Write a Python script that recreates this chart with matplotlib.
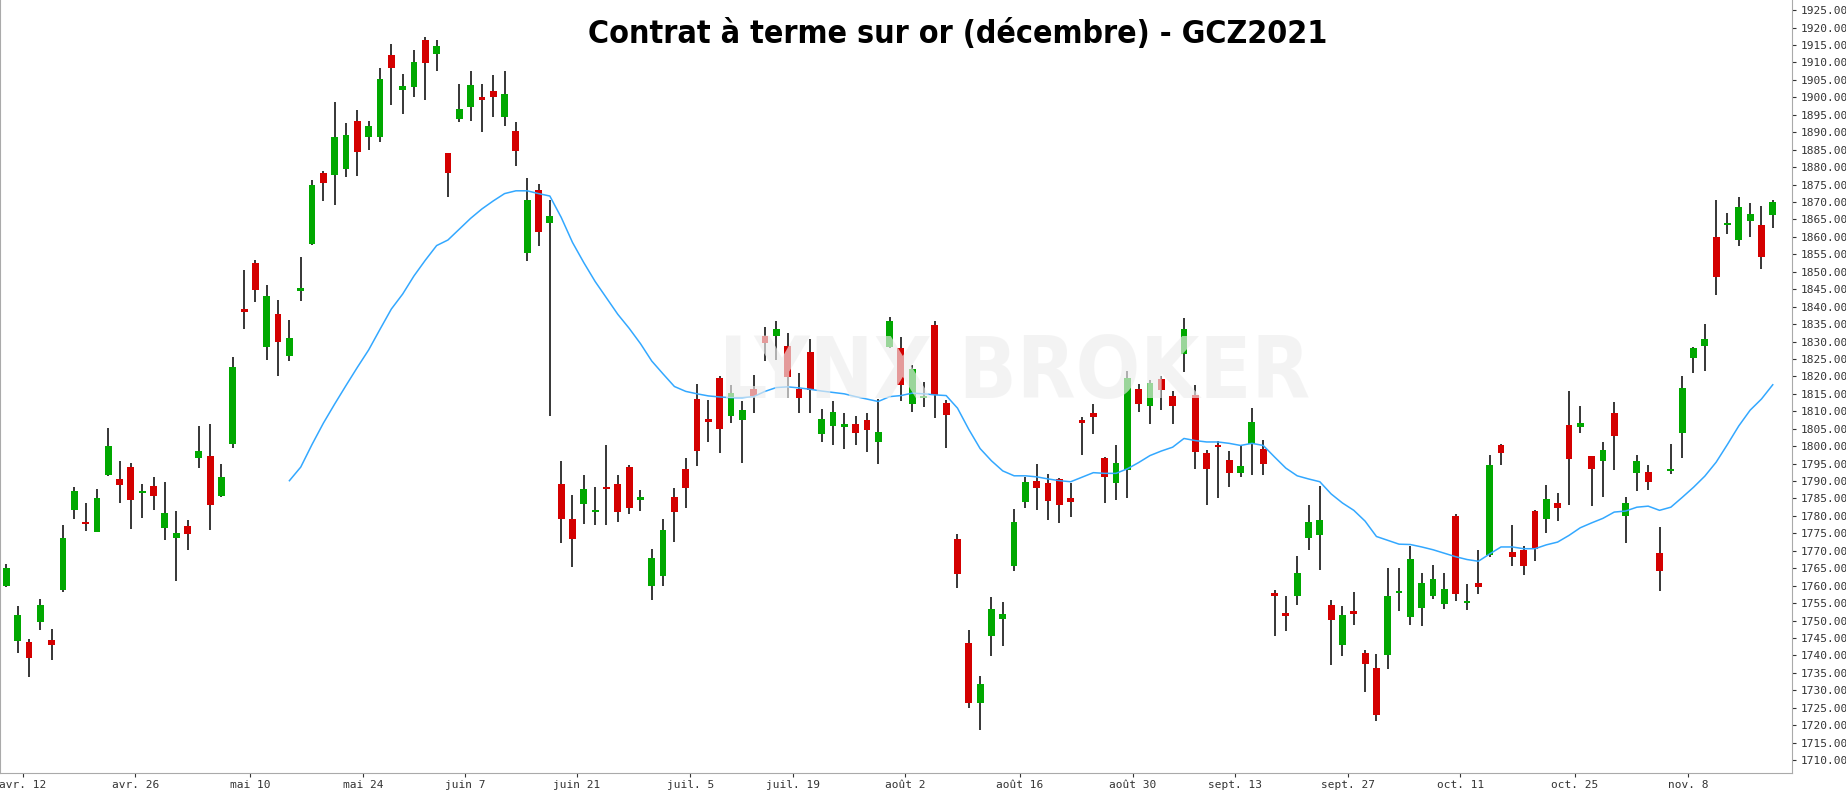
import matplotlib
matplotlib.use('Agg')
import matplotlib.pyplot as plt
import numpy as np

# daily OHLC, GCZ2021
opens = [1760.0, 1744.0, 1743.9, 1749.5, 1744.4, 1758.9, 1781.8, 1778.3, 1775.3, 1791.8,
         1790.6, 1794.0, 1786.6, 1788.6, 1776.4, 1773.8, 1777.2, 1796.7, 1797.1, 1785.7,
         1800.5, 1839.0, 1852.5, 1828.3, 1837.8, 1825.9, 1844.6, 1858.0, 1878.2, 1877.6,
         1879.5, 1893.1, 1888.5, 1888.5, 1912.1, 1902.0, 1902.9, 1916.5, 1912.3, 1884.0,
         1893.9, 1897.1, 1900.1, 1901.8, 1894.5, 1890.4, 1855.5, 1873.5, 1863.9, 1789.2,
         1779.1, 1783.5, 1781.2, 1788.0, 1789.2, 1794.0, 1784.7, 1759.8, 1762.7, 1785.4,
         1793.4, 1813.5, 1807.7, 1819.6, 1808.7, 1807.4, 1816.4, 1831.6, 1831.6, 1828.7,
         1816.4, 1827.0, 1803.4, 1805.7, 1805.4, 1806.4, 1807.6, 1801.3, 1828.3, 1828.1,
         1812.2, 1813.7, 1834.8, 1812.5, 1773.4, 1743.6, 1726.3, 1745.5, 1750.4, 1765.7,
         1784.1, 1790.0, 1789.5, 1790.5, 1785.1, 1807.4, 1809.5, 1796.6, 1789.3, 1793.1,
         1816.4, 1811.6, 1819.3, 1814.4, 1826.5, 1814.7, 1798.0, 1800.3, 1796.0, 1792.2,
         1800.5, 1799.2, 1757.9, 1752.1, 1757.0, 1773.8, 1774.4, 1754.4, 1743.1, 1752.7,
         1740.7, 1736.3, 1740.2, 1757.8, 1751.1, 1753.7, 1756.9, 1754.7, 1779.9, 1754.9,
         1760.8, 1768.9, 1800.3, 1769.6, 1770.1, 1781.4, 1779.0, 1783.7, 1806.1, 1805.4,
         1797.1, 1795.7, 1809.5, 1779.9, 1792.2, 1792.7, 1769.3, 1792.9, 1803.7, 1825.4,
         1828.7, 1860.0, 1863.3, 1859.0, 1864.6, 1863.5, 1866.4]
highs = [1766.2, 1754.1, 1744.7, 1756.2, 1747.6, 1777.3, 1788.3, 1783.7, 1787.7, 1805.3,
         1795.8, 1795.1, 1789.2, 1791.2, 1789.8, 1781.4, 1778.9, 1805.8, 1806.4, 1794.8,
         1825.5, 1850.4, 1853.3, 1846.2, 1841.9, 1836.1, 1854.2, 1876.3, 1879.0, 1898.7,
         1892.7, 1896.3, 1893.1, 1908.5, 1915.2, 1906.6, 1913.7, 1917.3, 1916.5, 1884.0,
         1903.9, 1907.6, 1903.7, 1906.5, 1907.6, 1893.0, 1876.8, 1875.2, 1870.7, 1795.6,
         1786.0, 1791.6, 1788.3, 1800.2, 1791.6, 1794.7, 1787.4, 1770.6, 1779.0, 1787.9,
         1796.6, 1817.9, 1813.2, 1820.2, 1817.6, 1812.8, 1820.5, 1834.2, 1836.0, 1832.3,
         1821.0, 1830.6, 1810.6, 1812.8, 1809.6, 1808.6, 1809.5, 1813.5, 1837.1, 1831.3,
         1823.4, 1818.3, 1836.0, 1813.2, 1774.7, 1747.2, 1734.2, 1756.8, 1755.3, 1781.9,
         1791.2, 1795.0, 1792.1, 1790.9, 1789.3, 1808.3, 1812.1, 1796.9, 1800.3, 1821.6,
         1817.9, 1819.0, 1820.2, 1815.7, 1836.7, 1817.6, 1799.0, 1801.5, 1798.6, 1800.0,
         1810.8, 1801.8, 1758.8, 1757.0, 1768.6, 1783.0, 1788.5, 1755.9, 1754.1, 1758.2,
         1741.5, 1740.4, 1765.0, 1765.0, 1771.5, 1763.7, 1765.9, 1763.7, 1780.6, 1760.5,
         1770.1, 1797.4, 1800.6, 1777.3, 1771.5, 1781.7, 1788.9, 1786.6, 1815.7, 1811.5,
         1797.1, 1801.1, 1812.6, 1785.3, 1797.6, 1794.5, 1776.9, 1800.5, 1820.2, 1828.3,
         1834.9, 1870.6, 1866.9, 1871.4, 1869.8, 1868.8, 1870.6]
lows = [1759.5, 1740.8, 1733.9, 1747.2, 1738.8, 1758.2, 1779.0, 1775.6, 1775.3, 1791.5,
        1783.8, 1776.2, 1779.5, 1781.8, 1773.2, 1761.2, 1770.1, 1793.7, 1775.9, 1785.3,
        1799.6, 1833.5, 1841.2, 1824.8, 1820.0, 1824.5, 1841.5, 1857.7, 1870.4, 1869.0,
        1877.1, 1877.4, 1885.0, 1887.1, 1897.9, 1895.3, 1900.2, 1899.1, 1907.6, 1871.3,
        1893.0, 1893.3, 1890.2, 1894.5, 1891.7, 1880.4, 1853.0, 1857.4, 1808.7, 1772.1,
        1765.4, 1777.6, 1777.3, 1777.3, 1778.2, 1780.6, 1781.5, 1756.0, 1759.8, 1772.4,
        1782.4, 1794.4, 1801.2, 1797.9, 1806.6, 1795.3, 1809.6, 1824.5, 1824.8, 1813.9,
        1809.6, 1809.6, 1801.1, 1800.2, 1799.2, 1800.2, 1798.4, 1795.0, 1828.0, 1812.8,
        1809.9, 1811.2, 1808.1, 1799.6, 1759.2, 1725.0, 1718.7, 1739.7, 1742.6, 1764.1,
        1782.2, 1781.8, 1778.9, 1777.9, 1779.8, 1797.6, 1803.4, 1783.8, 1784.7, 1785.0,
        1809.9, 1806.3, 1810.5, 1806.3, 1821.2, 1793.5, 1783.0, 1785.0, 1788.2, 1791.1,
        1791.6, 1791.6, 1745.5, 1746.9, 1754.6, 1770.1, 1764.4, 1737.3, 1739.9, 1748.6,
        1729.5, 1721.1, 1736.0, 1752.7, 1748.8, 1748.4, 1756.2, 1753.4, 1755.6, 1753.1,
        1757.6, 1768.3, 1794.5, 1765.7, 1763.1, 1767.0, 1775.1, 1778.6, 1783.2, 1803.8,
        1782.7, 1785.4, 1793.1, 1772.1, 1787.2, 1787.3, 1758.5, 1791.9, 1796.7, 1820.9,
        1821.6, 1843.2, 1860.7, 1857.4, 1860.0, 1850.7, 1862.4]
closes = [1765.0, 1751.5, 1739.4, 1754.4, 1743.1, 1773.7, 1787.2, 1777.6, 1785.1, 1800.0,
          1789.0, 1784.7, 1786.9, 1785.8, 1780.8, 1775.1, 1774.7, 1798.6, 1783.0, 1791.2,
          1822.6, 1838.6, 1844.9, 1843.0, 1830.0, 1831.0, 1845.1, 1874.9, 1875.3, 1888.7,
          1889.2, 1884.2, 1891.8, 1905.3, 1908.5, 1903.3, 1910.1, 1909.7, 1914.7, 1878.2,
          1896.6, 1903.6, 1899.1, 1900.2, 1901.0, 1884.5, 1870.6, 1861.3, 1865.9, 1779.2,
          1773.5, 1787.6, 1781.6, 1787.6, 1781.2, 1782.4, 1785.1, 1767.9, 1776.0, 1781.2,
          1787.9, 1798.7, 1806.8, 1804.8, 1815.2, 1810.3, 1814.4, 1829.7, 1833.6, 1819.7,
          1813.9, 1816.1, 1807.7, 1809.7, 1806.4, 1803.9, 1804.5, 1804.1, 1836.0, 1817.6,
          1822.1, 1814.1, 1814.7, 1809.0, 1763.3, 1726.5, 1731.8, 1753.3, 1751.8, 1778.3,
          1789.8, 1787.9, 1784.4, 1783.2, 1784.1, 1806.7, 1808.4, 1791.1, 1795.3, 1819.6,
          1812.2, 1818.1, 1816.1, 1811.6, 1833.6, 1798.4, 1793.5, 1799.7, 1792.2, 1794.4,
          1807.0, 1795.0, 1756.9, 1751.4, 1763.7, 1778.3, 1778.9, 1750.1, 1751.5, 1752.0,
          1737.6, 1723.0, 1757.0, 1758.5, 1767.6, 1760.8, 1762.0, 1759.1, 1757.5, 1755.6,
          1759.5, 1794.5, 1797.9, 1768.3, 1765.7, 1770.6, 1784.8, 1782.2, 1796.4, 1806.6,
          1793.5, 1798.9, 1802.8, 1783.8, 1795.7, 1789.6, 1764.1, 1793.4, 1816.7, 1828.0,
          1830.7, 1848.4, 1863.8, 1868.5, 1866.5, 1854.1, 1870.0]

# moving average, starts on the 26th session
ma_start = 25
ma_values = [1790.1, 1794.0, 1800.5, 1806.6, 1812.1, 1817.4, 1822.6, 1827.6, 1833.5, 1839.3,
             1843.6, 1848.8, 1853.3, 1857.5, 1859.1, 1862.2, 1865.3, 1868.0, 1870.3, 1872.4,
             1873.2, 1873.2, 1872.4, 1871.7, 1865.6, 1858.4, 1852.6, 1847.2, 1842.5, 1837.8,
             1833.8, 1829.4, 1824.4, 1820.7, 1817.1, 1815.7, 1815.0, 1814.4, 1814.1, 1813.9,
             1813.9, 1814.2, 1815.7, 1816.8, 1817.0, 1816.7, 1816.3, 1815.8, 1815.4, 1815.0,
             1814.2, 1813.5, 1812.8, 1814.2, 1814.5, 1815.2, 1815.0, 1814.7, 1814.5, 1810.9,
             1804.8, 1799.3, 1795.8, 1792.9, 1791.5, 1791.5, 1791.2, 1790.6, 1790.1, 1789.8,
             1791.1, 1792.4, 1792.2, 1792.2, 1793.5, 1795.3, 1797.3, 1798.6, 1799.7, 1802.2,
             1801.6, 1801.2, 1801.2,
             1800.8, 1800.2, 1800.8, 1800.2, 1796.9, 1793.7, 1791.5, 1790.6, 1789.8, 1786.3,
             1783.7, 1781.6, 1778.5, 1774.1, 1773.0, 1771.9, 1771.8, 1771.1, 1770.3, 1769.3,
             1768.3, 1767.5, 1767.0, 1769.1, 1771.1, 1771.1, 1770.6, 1770.6, 1771.7, 1772.5,
             1774.4, 1776.6, 1778.0, 1779.3, 1781.1, 1781.4, 1782.5, 1782.8, 1781.6, 1782.5,
             1785.3, 1788.2, 1791.4, 1795.4, 1800.5, 1805.8, 1810.3, 1813.5, 1817.6]

date_labels = ['avr. 12', 'avr. 26', 'mai 10', 'mai 24', 'juin 7', 'juin 21', 'juil. 5',
               'juil. 19', 'août 2', 'août 16', 'août 30', 'sept. 13', 'sept. 27',
               'oct. 11', 'oct. 25', 'nov. 8']
date_pos = [1.43, 11.4, 21.5, 31.5, 40.5, 50.4, 60.4, 69.5, 79.4, 89.5, 99.5, 108.5,
            118.5, 128.4, 138.5, 148.5]

green = '#00a800'
red = '#d40000'

fig = plt.figure(figsize=(18.46, 7.92), dpi=100)
ax = fig.add_axes([0.0, 1 - 773 / 792, 1792 / 1846, 773 / 792])

x = np.arange(len(opens))
o = np.array(opens); c = np.array(closes)
up = c >= o
cols = np.where(up, green, red)
ax.vlines(x, lows, highs, color='black', lw=1.1, zorder=2)
body_bot = np.minimum(o, c)
body_h = np.maximum(np.abs(c - o), 0.6)
ax.bar(x, body_h, bottom=body_bot, width=0.6, color=cols, zorder=3, linewidth=0)

ax.plot(np.arange(ma_start, ma_start + len(ma_values)), ma_values, color='#33a8ff', lw=1.1, zorder=4)

ax.text(0.566, 0.515, 'LYNX BROKER', transform=ax.transAxes, ha='center', va='center',
        fontsize=61, fontweight='bold', fontstretch='condensed', color='#eeeeee',
        alpha=0.65, zorder=5, family='DejaVu Sans')

fig.text(958 / 1846, 1 - 35 / 792, 'Contrat à terme sur or (décembre) - GCZ2021',
         ha='center', va='center', fontsize=23, fontweight='heavy', fontstretch='condensed',
         family='DejaVu Sans')

ax.set_xlim(-0.56, 157.7)
ax.set_ylim(1706.3, 1927.9)
ax.yaxis.tick_right()
ax.set_yticks(np.arange(1710, 1926, 5))
ax.set_yticklabels(['%.2f' % v for v in np.arange(1710, 1926, 5)])
ax.set_xticks(date_pos)
ax.set_xticklabels(date_labels)
ax.tick_params(axis='both', labelsize=8, colors='#333333', length=3, width=0.8)
for lab in ax.get_xticklabels() + ax.get_yticklabels():
    lab.set_family('DejaVu Sans Mono')
ax.tick_params(axis='x', pad=2)
ax.tick_params(axis='y', pad=3)
ax.spines['top'].set_visible(False)
for s in ['left', 'right', 'bottom']:
    ax.spines[s].set_color('#aaaaaa')

fig.savefig('out.png', dpi=100)
